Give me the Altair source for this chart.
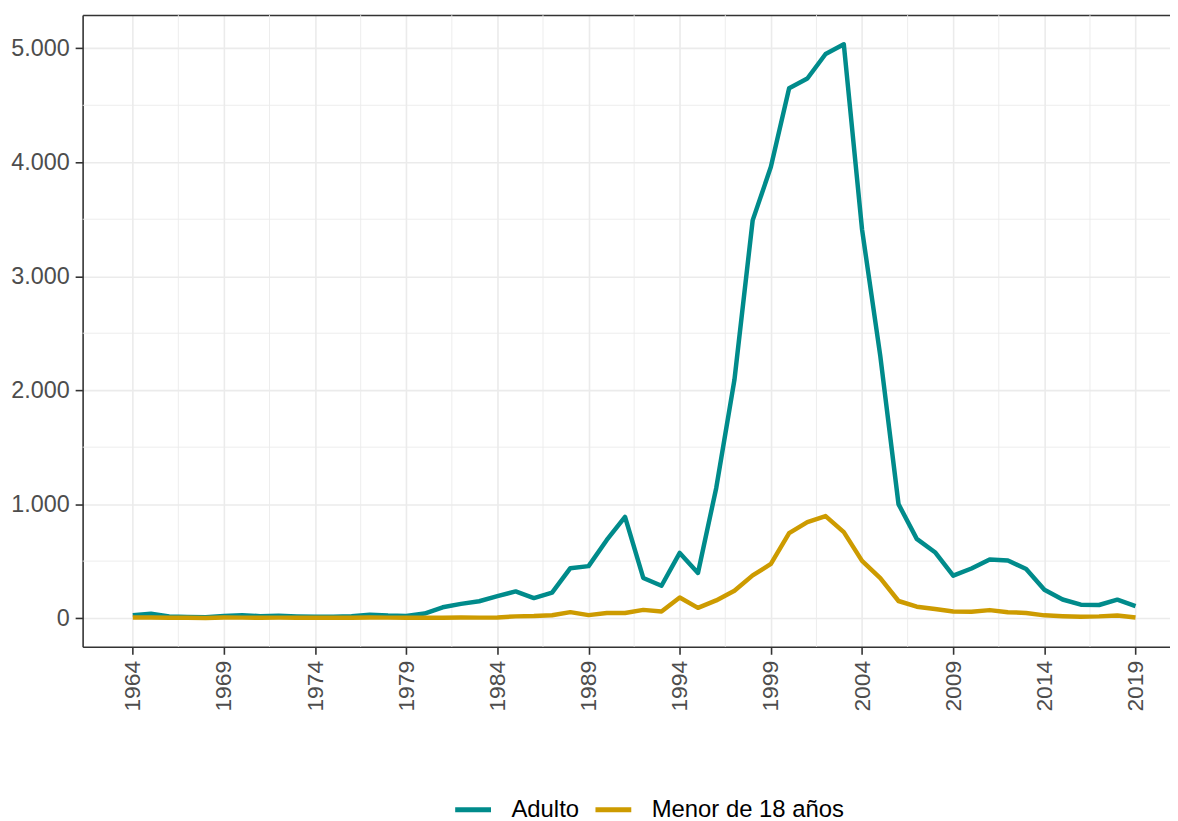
import altair as alt
import pandas as pd

years = list(range(1964, 2020))
adulto = [26, 38, 14, 10, 8, 18, 26, 16, 20, 15,
          12, 12, 16, 30, 22, 18, 40, 95, 125, 148,
          192, 234, 176, 223, 438, 456, 686, 888, 352, 284,
          572, 396, 1140, 2090, 3490, 3960, 4650, 4735, 4950, 5035,
          3410, 2300, 1000, 695, 578, 372, 435, 515, 505, 430,
          248, 163, 118, 115, 162, 105]
menor = [5, 6, 3, 2, 1, 5, 4, 3, 4, 3,
         2, 2, 3, 6, 4, 3, 2, 3, 5, 4,
         6, 15, 18, 25, 52, 26, 44, 44, 72, 58,
         180, 90, 155, 240, 375, 475, 745, 842, 895, 754,
         502, 351, 150, 100, 80, 58, 56, 70, 52, 45,
         24, 17, 12, 15, 22, 6]
series_names = ["Adulto", "Menor de 18 años"]
colors = ["#008B8B", "#CD9B00"]

x_major = [1964, 1969, 1974, 1979, 1984, 1989, 1994, 1999, 2004, 2009, 2014, 2019]
x_minor = [1966.5, 1971.5, 1976.5, 1981.5, 1986.5, 1991.5, 1996.5, 2001.5, 2006.5, 2011.5, 2016.5]
y_major = [0, 1000, 2000, 3000, 4000, 5000]
y_minor = [500, 1500, 2500, 3500, 4500]
x_domain = [1961.25, 2020.89]
y_domain = [-252, 5292]

df = pd.DataFrame({
    "year": years + years,
    "value": adulto + menor,
    "serie": [series_names[0]] * len(years) + [series_names[1]] * len(years),
})

FONT = "Liberation Sans"
x_scale = alt.Scale(domain=x_domain, nice=False, zero=False)
y_scale = alt.Scale(domain=y_domain, nice=False, zero=False)

y_minor_layer = alt.Chart(pd.DataFrame({"y": y_minor})).mark_rule(
    color="#EBEBEB", strokeWidth=0.9
).encode(
    y=alt.Y("y:Q", scale=y_scale, axis=None)
)

x_minor_layer = alt.Chart(pd.DataFrame({"x": x_minor})).mark_rule(
    color="#EBEBEB", strokeWidth=0.9
).encode(
    x=alt.X("x:Q", scale=x_scale, title=None,
            axis=alt.Axis(orient="top", labels=False, ticks=False, grid=False,
                          domain=True, domainColor="#333333", domainWidth=1.6))
)

lines = alt.Chart(df).mark_line(strokeWidth=4.5, strokeJoin="round").encode(
    x=alt.X("year:Q", scale=x_scale, title=None,
            axis=alt.Axis(orient="bottom", values=x_major, format="d",
                          labelAngle=270, labelAlign="right", labelBaseline="middle",
                          labelPadding=6, labelFlush=False, labelOverlap=False,
                          grid=True, gridColor="#EBEBEB", gridWidth=1.6,
                          domain=True, domainColor="#333333", domainWidth=1.6,
                          ticks=True, tickColor="#333333", tickWidth=1.6, tickSize=7.5,
                          labelFont=FONT, labelFontSize=23, labelColor="#4D4D4D")),
    y=alt.Y("value:Q", scale=y_scale, title=None,
            axis=alt.Axis(orient="left", values=y_major,
                          labelExpr="replace(format(datum.value, ','), ',', '.')",
                          labelPadding=6, labelFlush=False, labelOverlap=False,
                          grid=True, gridColor="#EBEBEB", gridWidth=1.6,
                          domain=True, domainColor="#333333", domainWidth=1.6,
                          ticks=True, tickColor="#333333", tickWidth=1.6, tickSize=7.5,
                          labelFont=FONT, labelFontSize=23.5, labelColor="#4D4D4D")),
    color=alt.Color("serie:N",
                    scale=alt.Scale(domain=series_names, range=colors),
                    legend=alt.Legend(title=None, orient="none", legendX=372, legendY=778,
                                      direction="horizontal", symbolType="stroke",
                                      symbolSize=1296, symbolStrokeWidth=5,
                                      labelFont=FONT, labelFontSize=24, labelColor="black",
                                      labelLimit=400,
                                      columnPadding=5, labelOffset=18, padding=0)),
)

chart = alt.layer(y_minor_layer, x_minor_layer, lines).resolve_axis(
    x="independent", y="independent"
).properties(
    width=1093, height=635,
    autosize=alt.AutoSizeParams(type="none"),
    padding={"left": 75, "top": 5, "right": 0, "bottom": 173},
    background="white",
).configure_view(strokeWidth=0)

chart.save("out.html", embed_options={"renderer": "svg", "actions": False})
